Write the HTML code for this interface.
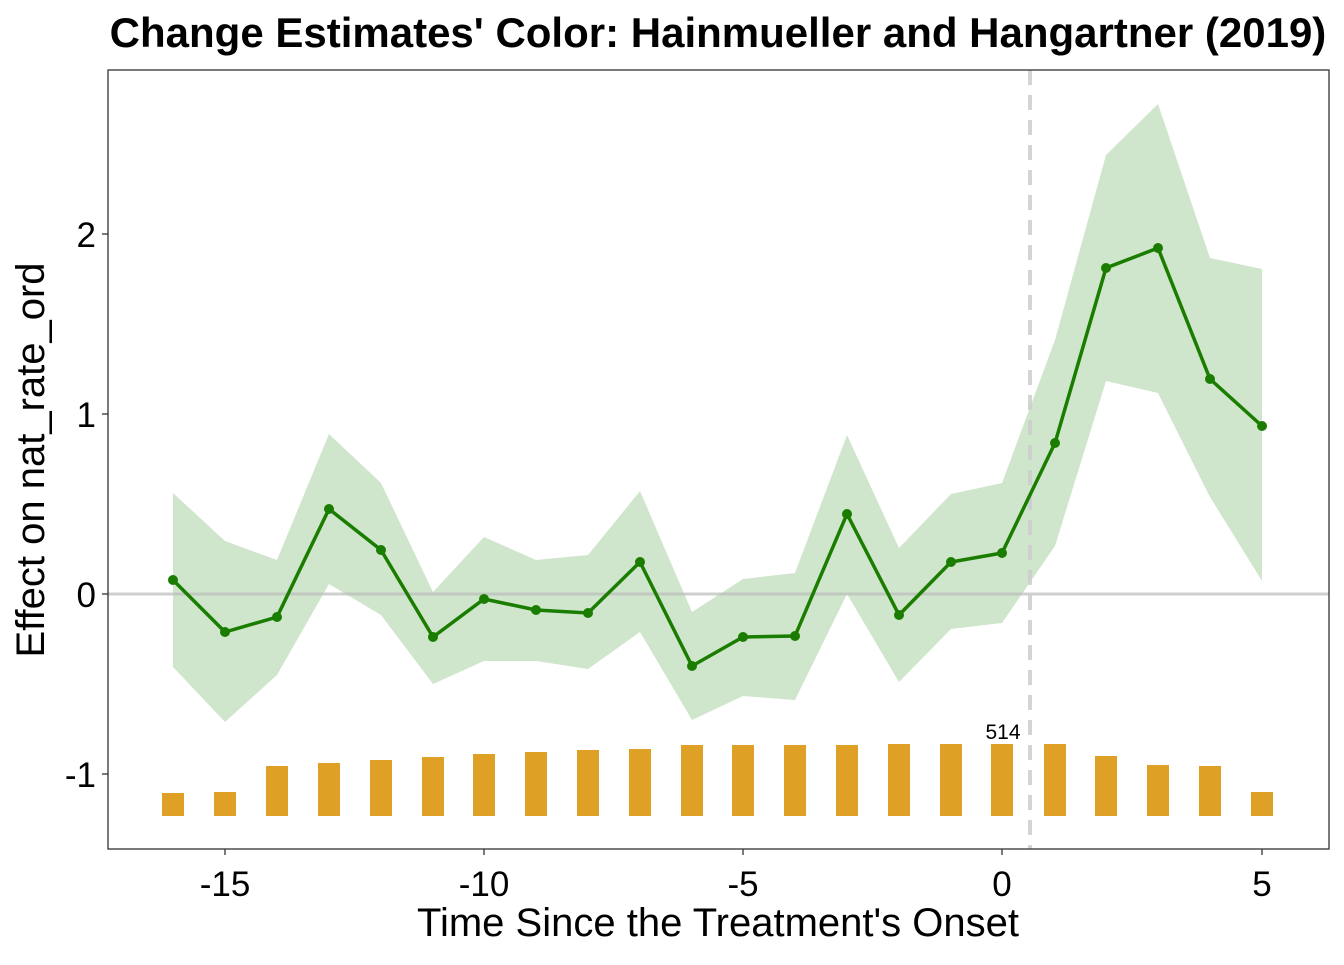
<!DOCTYPE html>
<html><head><style>body{margin:0;background:#fff}</style></head><body>
<svg width="1344" height="960" xmlns="http://www.w3.org/2000/svg" font-family="Liberation Sans, Arial, sans-serif">
<rect width="1344" height="960" fill="#fff"/>
<text x="718" y="47" text-anchor="middle" font-size="42" font-weight="bold">Change Estimates' Color: Hainmueller and Hangartner (2019)</text>
<polygon fill="#d0e6cc" points="173,493 225,541 277,560 329,434 381,483 433,592 484,537 536,560 588,555 640,491 692,612 743,579 795,573 847,435 899,548 951,494 1002,483 1055,340 1106,155 1158,104 1210,258 1262,269 1262,581 1210,497 1158,393 1106,381 1055,546 1002,623 951,629 899,682 847,594 795,700 743,696 692,720 640,632 588,669 536,661 484,661 433,684 381,615 329,584 277,675 225,722 173,667"/>
<line x1="108" y1="594" x2="1329" y2="594" stroke="#bbb" stroke-opacity="0.7" stroke-width="3"/>
<line x1="1030" y1="70" x2="1030" y2="849" stroke="#ccc" stroke-opacity="0.85" stroke-width="4" stroke-dasharray="15,10"/>
<g fill="#dfa125">
<rect x="162" y="793" width="22" height="23"/><rect x="214" y="792" width="22" height="24"/><rect x="266" y="766" width="22" height="50"/><rect x="318" y="763" width="22" height="53"/><rect x="370" y="760" width="22" height="56"/><rect x="422" y="757" width="22" height="59"/><rect x="473" y="754" width="22" height="62"/><rect x="525" y="752" width="22" height="64"/><rect x="577" y="750" width="22" height="66"/><rect x="629" y="749" width="22" height="67"/><rect x="681" y="745" width="22" height="71"/><rect x="732" y="745" width="22" height="71"/><rect x="784" y="745" width="22" height="71"/><rect x="836" y="745" width="22" height="71"/><rect x="888" y="744" width="22" height="72"/><rect x="940" y="744" width="22" height="72"/><rect x="991" y="744" width="22" height="72"/><rect x="1044" y="744" width="22" height="72"/><rect x="1095" y="756" width="22" height="60"/><rect x="1147" y="765" width="22" height="51"/><rect x="1199" y="766" width="22" height="50"/><rect x="1251" y="792" width="22" height="24"/>
</g>
<text x="1003" y="739" text-anchor="middle" font-size="21">514</text>
<polyline fill="none" stroke="#1a7d00" stroke-width="3.5" points="173,580 225,632 277,617 329,509 381,550 433,637 484,599 536,610 588,613 640,562 692,666 743,637 795,636 847,514 899,615 951,562 1002,553 1055,443 1106,268 1158,248 1210,379 1262,426"/>
<g fill="#1a7d00">
<circle cx="173" cy="580" r="5"/><circle cx="225" cy="632" r="5"/><circle cx="277" cy="617" r="5"/><circle cx="329" cy="509" r="5"/><circle cx="381" cy="550" r="5"/><circle cx="433" cy="637" r="5"/><circle cx="484" cy="599" r="5"/><circle cx="536" cy="610" r="5"/><circle cx="588" cy="613" r="5"/><circle cx="640" cy="562" r="5"/><circle cx="692" cy="666" r="5"/><circle cx="743" cy="637" r="5"/><circle cx="795" cy="636" r="5"/><circle cx="847" cy="514" r="5"/><circle cx="899" cy="615" r="5"/><circle cx="951" cy="562" r="5"/><circle cx="1002" cy="553" r="5"/><circle cx="1055" cy="443" r="5"/><circle cx="1106" cy="268" r="5"/><circle cx="1158" cy="248" r="5"/><circle cx="1210" cy="379" r="5"/><circle cx="1262" cy="426" r="5"/>
</g>
<rect x="108" y="70" width="1221" height="779" fill="none" stroke="#333" stroke-width="1.3"/>
<g stroke="#333" stroke-width="1.3">
<line x1="102" y1="234" x2="108" y2="234"/><line x1="102" y1="414" x2="108" y2="414"/><line x1="102" y1="594" x2="108" y2="594"/><line x1="102" y1="774" x2="108" y2="774"/>
<line x1="225" y1="849" x2="225" y2="855"/><line x1="484" y1="849" x2="484" y2="855"/><line x1="743" y1="849" x2="743" y2="855"/><line x1="1002" y1="849" x2="1002" y2="855"/><line x1="1262" y1="849" x2="1262" y2="855"/>
</g>
<g font-size="35" text-anchor="end">
<text x="96" y="247">2</text><text x="96" y="427">1</text><text x="96" y="607">0</text><text x="96" y="787">-1</text>
</g>
<g font-size="35" text-anchor="middle">
<text x="225" y="896">-15</text><text x="484" y="896">-10</text><text x="743" y="896">-5</text><text x="1002" y="896">0</text><text x="1262" y="896">5</text>
</g>
<text x="718" y="936" text-anchor="middle" font-size="40">Time Since the Treatment's Onset</text>
<text transform="translate(44,460) rotate(-90)" text-anchor="middle" font-size="40">Effect on nat_rate_ord</text>
</svg>
</body></html>
